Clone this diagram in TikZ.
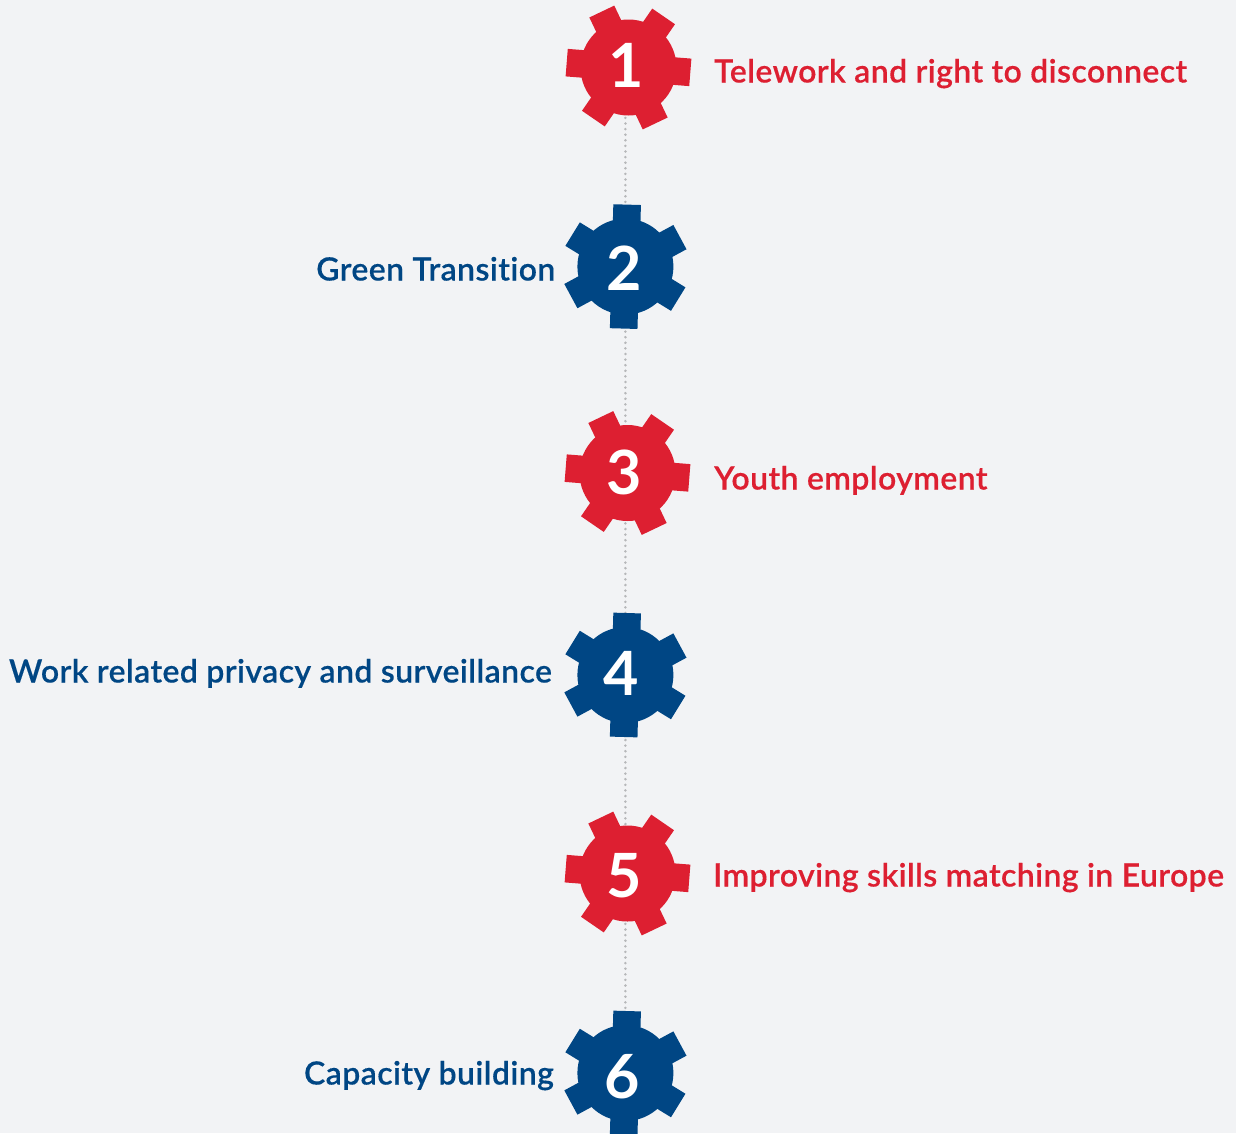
\documentclass[tikz,border=0pt]{standalone}
\usepackage{fontspec}
\setmainfont{Lato}
\newfontfamily\labelfont[LetterSpace=1.3,Ligatures=NoCommon,FakeBold=0.3]{Lato Semibold}
\newfontfamily\digitfont{Lato Bold}
\usetikzlibrary{backgrounds}
\definecolor{gearred}{HTML}{DD1F31}
\definecolor{gearblue}{HTML}{004684}
\definecolor{pagebg}{HTML}{F2F3F5}
\definecolor{dotgray}{HTML}{B6B7B9}
\tikzset{
  x=1pt,y=-1pt,
  hub/.style={circle,inner sep=0pt,minimum size=96pt,fill=#1},
  digit/.style={text=white,inner sep=0pt,anchor=base,font=\digitfont\fontsize{61}{61}\selectfont},
  redlabel/.style={text=gearred,inner sep=0pt,anchor=base west,font=\labelfont\fontsize{32}{32}\selectfont},
  bluelabel/.style={text=gearblue,inner sep=0pt,anchor=base east,font=\labelfont\fontsize{32}{32}\selectfont},
  dotline/.style={draw=dotgray,line width=2.8pt,line cap=round,dash pattern=on 0pt off 5.6pt},
}
% name, x, y, angle of first tooth (counterclockwise, y up), colour
\newcommand{\gearat}[5]{%
  \node[hub=#5] (#1) at (#2,#3) {};
  \foreach \k in {0,...,5}{
    \fill[#5,shift={(#2,#3)},rotate=#4+60*\k]
      (40,-13.8) -- (62,-13.8) -- (62,13.8) -- (40,13.8) -- cycle;
  }%
}
\begin{document}
\begin{tikzpicture}
\useasboundingbox (0,0) rectangle (1236,1133);
\clip (0,0) rectangle (1236,1133);
\gearat{g1}{628.5}{67.5}{-4.5}{gearred}
\gearat{g2}{625.4}{266.6}{28.4}{gearblue}
\gearat{g3}{627.5}{473}{-4.5}{gearred}
\gearat{g4}{625.4}{675}{28.4}{gearblue}
\gearat{g5}{627.5}{873.5}{-4.5}{gearred}
\gearat{g6}{625.4}{1073}{28.4}{gearblue}
\node[digit] (n1) at (626.5,87.7) {1};
\node[digit] (n2) at (624.5,290) {2};
\node[digit] (n3) at (624,494) {3};
\node[digit] (n4) at (621,695.5) {4};
\node[digit] (n5) at (624.5,897.5) {5};
\node[digit] (n6) at (622,1098) {6};
\node[redlabel] (t1) at (714,82.5) {Telework and right to disconnect};
\node[bluelabel] (t2) at (555.5,280.5) {Green Transition};
\node[redlabel] (t3) at (714,489.5) {Youth employment};
\node[bluelabel] (t4) at (552,682.5) {Work related privacy and surveillance};
\node[redlabel] (t5) at (713,886.5) {Improving skills matching in Europe};
\node[bluelabel] (t6) at (554,1084.5) {Capacity building};
\begin{pgfonlayer}{background}
\fill[pagebg] (0,0) rectangle (1236,1133);
\draw[dotline] (g1 -| g2) -- (g2);
\draw[dotline] (g2) -- (g3 -| g2);
\draw[dotline] (g3 -| g2) -- (g4);
\draw[dotline] (g4) -- (g5 -| g4);
\draw[dotline] (g5 -| g4) -- (g6);
\end{pgfonlayer}
\end{tikzpicture}
\end{document}
